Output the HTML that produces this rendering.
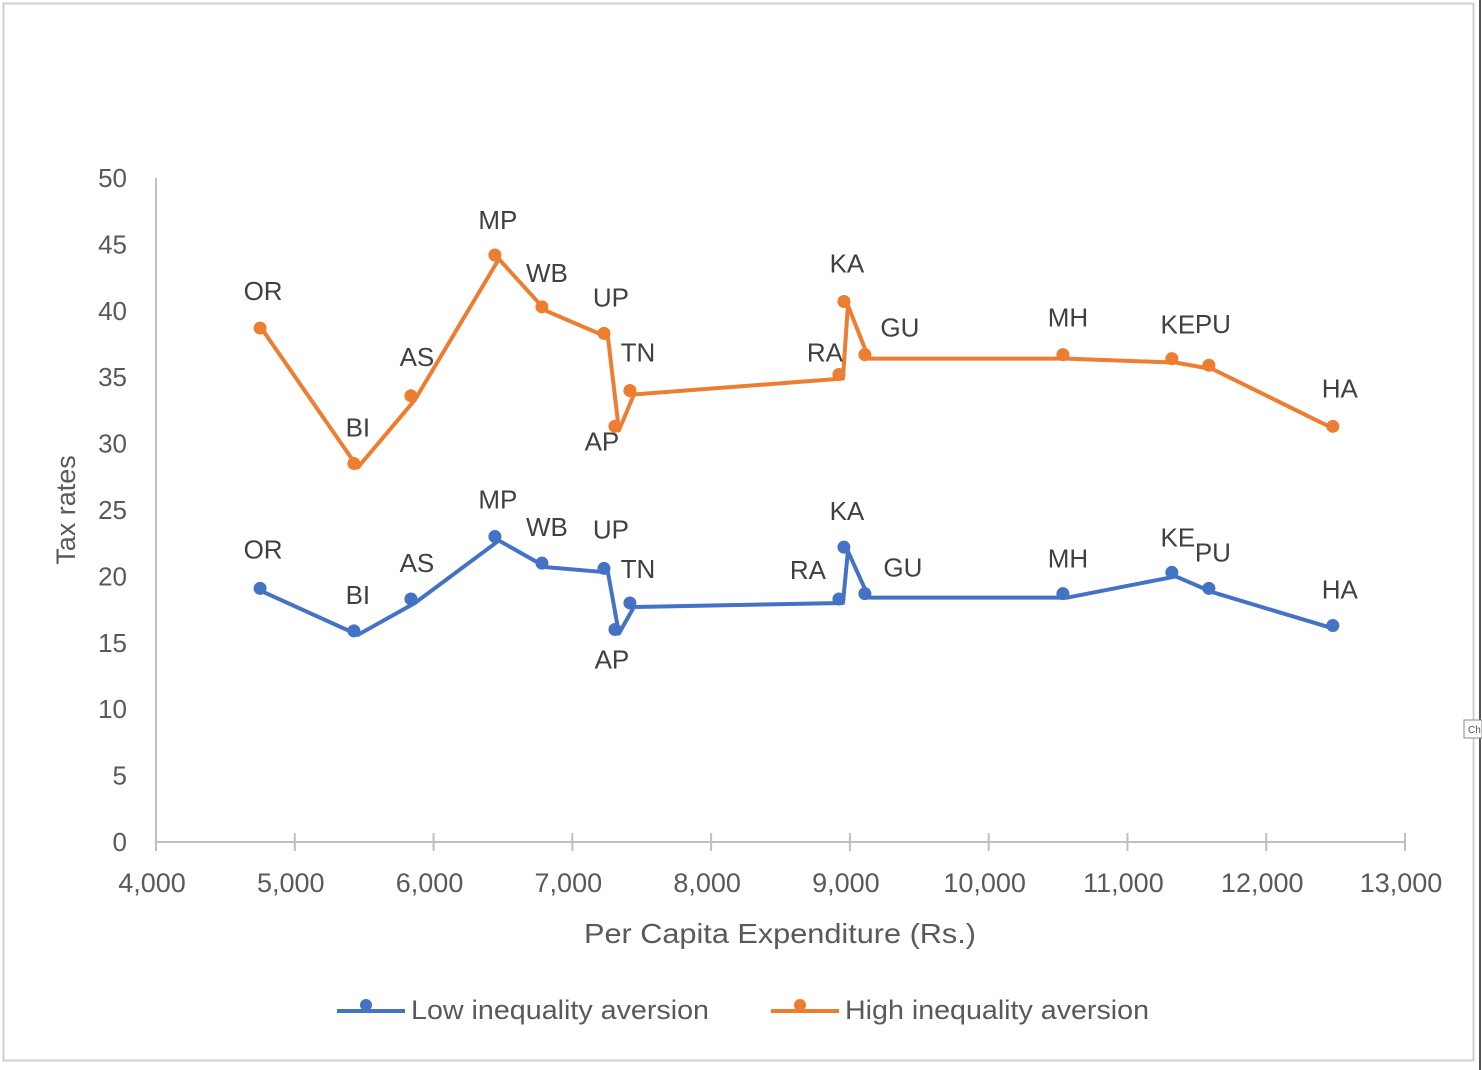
<!DOCTYPE html>
<html><head><meta charset="utf-8"><style>
html,body{margin:0;padding:0;background:#fff;}
svg{display:block;font-family:"Liberation Sans",sans-serif;}
</style></head><body>
<svg id="chart" width="1482" height="1070" viewBox="0 0 1482 1070" xmlns="http://www.w3.org/2000/svg">
<rect x="3.5" y="3.5" width="1470" height="1057" fill="#fff" stroke="#d0d0d0" stroke-width="2"/>
<line x1="1480" y1="0" x2="1480" y2="1070" stroke="#555" stroke-width="2"/>
<rect x="1464" y="720" width="18" height="18" fill="#fff" stroke="#888"/>
<text x="1468" y="733" font-size="10" fill="#555">Ch</text>
<g id="axes"></g>
<g id="series"></g>
<g id="legend"></g>
</svg>
<script>
const states = ["OR","BI","AS","MP","WB","UP","AP","TN","RA","KA","GU","MH","KE","PU","HA"];
const expenditure = [4750,5426,5837,6442,6781,7228,7307,7415,8921,8957,9108,10535,11320,11587,12480];
const lowValues = [19.1,15.9,18.3,23.0,21.0,20.6,16.0,18.0,18.3,22.2,18.7,18.7,20.3,19.1,16.3];
const highValues = [38.7,28.5,33.6,44.2,40.3,38.3,31.3,34.0,35.2,40.7,36.7,36.7,36.4,35.9,31.3];
const xTicks = [4000,5000,6000,7000,8000,9000,10000,11000,12000,13000];
const xTickLabels = ["4,000","5,000","6,000","7,000","8,000","9,000","10,000","11,000","12,000","13,000"];
const yTicks = [0,5,10,15,20,25,30,35,40,45,50];

const NS="http://www.w3.org/2000/svg";
const X0=156,X1=1405,Y0=842,Y1=178;
function xs(v){return X0+(v-4000)/9000*(X1-X0);}
function ys(v){return Y0-(v/50)*(Y0-Y1);}
function mk(tag,attrs,parent,text){const e=document.createElementNS(NS,tag);for(const k in attrs)e.setAttribute(k,attrs[k]);if(text!==undefined)e.textContent=text;parent.appendChild(e);return e;}

const axes=document.getElementById('axes');
let e;
e=mk('line',{x1:X0,y1:Y1,x2:X0,y2:Y0,stroke:'#bfbfbf','stroke-width':2},axes);


e=mk('line',{x1:X0,y1:Y0,x2:X1,y2:Y0,stroke:'#bfbfbf','stroke-width':2},axes);


xTicks.forEach((t,i)=>{
  const x=xs(t);
  let tk=mk('line',{x1:x,y1:Y0-9,x2:x,y2:Y0+9,stroke:'#bfbfbf','stroke-width':2},axes);
  
  
  let l=mk('text',{x:x-4,y:Y0+50,'text-anchor':'middle','font-size':27,fill:'#595959'},axes,xTickLabels[i]);
  
  
});
yTicks.forEach(t=>{
  let l=mk('text',{x:127,y:ys(t)+9,'text-anchor':'end','font-size':26,fill:'#595959'},axes,String(t));
  
  
});
e=mk('text',{x:0,y:0,'text-anchor':'middle','font-size':27,fill:'#595959',transform:'translate(75,510) rotate(-90)'},axes,'Tax rates');


e=mk('text',{x:780,y:943,'text-anchor':'middle','font-size':28,fill:'#595959',textLength:392,lengthAdjust:'spacingAndGlyphs'},axes,'Per Capita Expenditure (Rs.)');



const highOff=[[3,-37],[4,-36],[6,-39],[3,-35],[5,-34],[7,-36],[-13,15],[8,-38],[-14,-22],[3,-38],[35,-27],[5,-37],[6,-34],[4,-41],[7,-38]];
const lowOff=[[3,-39],[4,-36],[6,-36],[3,-37],[5,-36],[7,-39],[-3,30],[8,-34],[-31,-29],[3,-36],[38,-26],[5,-35],[6,-35],[4,-36],[7,-36]];

const series=document.getElementById('series');
function drawSeries(vals,color,offs,name){
  const g=mk('g',{},series);
  
  
  const pts=vals.map((v,i)=>(xs(expenditure[i])+4)+','+(ys(v)+4)).join(' ');
  const pl=mk('polyline',{points:pts,fill:'none',stroke:color,'stroke-width':4,'stroke-linejoin':'round'},g);
  
  
  vals.forEach((v,i)=>{
    const cx=xs(expenditure[i]),cy=ys(v);
    const c=mk('circle',{cx:cx,cy:cy,r:6.5,fill:color},g);
    
    
    const t=mk('text',{x:cx+offs[i][0],y:cy+offs[i][1]+9,'text-anchor':'middle','font-size':26,fill:'#404040'},g,states[i]);
    
    
  });
}
drawSeries(highValues,'#ED7D31',highOff,'high');
drawSeries(lowValues,'#4472C4',lowOff,'low');

const legend=document.getElementById('legend');
function legendEntry(x1,color,label,name,tl){
  const g=mk('g',{},legend);
  
  
  let ln=mk('line',{x1:x1,y1:1011,x2:x1+68,y2:1011,stroke:color,'stroke-width':4},g);
  
  
  let c=mk('circle',{cx:x1+29,cy:1005,r:6,fill:color},g);
  
  
  let t=mk('text',{x:x1+74,y:1019,'font-size':27,fill:'#595959',textLength:tl,lengthAdjust:'spacingAndGlyphs'},g,label);
  
  
}
legendEntry(337,'#4472C4','Low inequality aversion','low',298);
legendEntry(771,'#ED7D31','High inequality aversion','high',304);
</script>
</body></html>
